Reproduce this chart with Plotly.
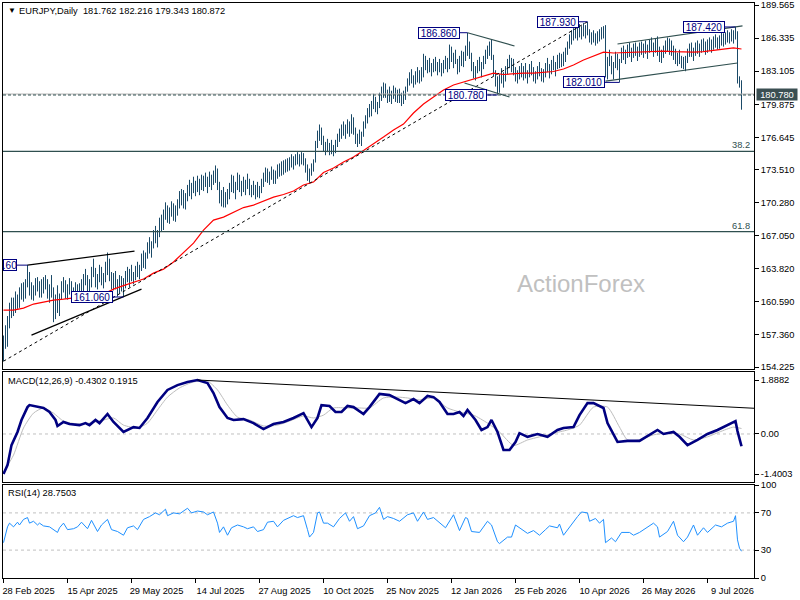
import plotly.graph_objects as go
from plotly.subplots import make_subplots

# ---------------- data ----------------
close = [
    156.9,157.8,158.8,160.2,160.0,160.6,161.0,160.3,161.6,162.0,
    161.1,162.5,163.0,161.8,161.2,161.8,162.6,162.0,161.4,162.4,
    162.6,162.2,161.3,161.8,161.5,159.6,160.9,160.2,161.1,162.3,
    162.0,161.4,162.0,162.5,161.3,161.7,161.6,161.2,162.1,161.8,
    162.9,162.6,162.0,162.4,163.6,163.4,162.4,162.9,163.8,162.6,
    162.8,164.2,163.8,163.0,162.2,163.0,162.0,161.9,162.8,162.4,
    162.5,163.3,162.9,163.5,162.9,163.2,163.9,163.4,164.0,165.0,
    164.4,165.2,166.1,165.7,166.3,167.2,166.8,167.4,168.5,167.9,
    169.2,169.5,168.9,169.5,169.8,169.0,169.6,170.3,170.9,170.6,
    170.2,170.9,171.7,171.4,172.0,171.6,172.1,171.8,172.3,171.9,
    172.4,172.0,172.5,172.2,172.8,172.4,173.5,171.9,170.6,171.0,
    170.4,170.9,171.2,171.9,172.6,171.5,172.0,172.8,171.6,172.2,
    171.8,172.2,172.0,171.4,171.7,171.2,171.5,171.1,171.6,172.3,
    172.9,173.3,172.6,173.1,173.4,172.7,173.2,173.6,173.4,174.0,
    173.8,174.2,174.0,174.5,174.2,174.6,174.4,174.9,174.6,174.8,
    174.3,173.6,172.8,173.3,173.8,174.2,176.0,176.9,176.7,176.3,
    175.6,175.9,175.5,175.8,175.3,175.7,176.2,176.7,177.1,177.4,
    177.2,177.6,177.9,177.1,178.4,177.2,176.4,176.6,176.2,176.9,
    177.9,178.5,179.2,179.0,179.8,180.5,179.6,179.9,180.8,181.2,
    181.6,180.9,181.0,180.4,181.1,181.3,180.6,181.0,180.3,180.7,
    180.9,181.4,182.1,182.8,182.3,182.5,182.9,182.4,183.0,182.8,
    184.4,183.6,183.9,183.3,183.6,184.0,183.5,183.8,183.2,183.5,
    183.9,184.3,183.4,185.3,184.4,184.6,183.9,183.2,184.2,184.0,
    184.7,185.3,185.2,184.7,183.6,182.8,183.3,183.8,183.4,183.8,
    184.3,184.9,185.3,185.0,184.5,183.0,182.0,181.6,182.4,182.2,
    182.6,183.3,184.0,183.8,184.1,183.0,182.4,182.9,183.1,182.8,
    183.3,182.7,182.9,183.5,183.0,182.4,182.8,183.3,182.9,182.6,
    183.0,183.6,183.3,183.5,184.0,183.6,183.8,184.4,184.5,184.3,
    184.7,185.2,185.8,186.4,186.8,187.0,186.8,187.2,187.0,187.3,
    187.1,187.4,186.9,186.3,186.6,186.4,186.6,186.5,186.9,187.1,
    187.3,182.9,184.1,184.0,183.2,183.7,184.6,183.5,184.0,185.0,
    184.6,185.0,185.4,184.9,185.1,185.5,185.0,185.2,185.6,185.3,
    185.6,185.2,185.5,185.9,185.4,185.7,186.0,185.0,184.4,184.9,
    185.3,185.8,185.4,185.9,185.0,184.6,184.2,184.5,184.0,183.9,
    183.8,184.3,185.0,185.4,184.8,185.1,185.6,185.2,185.6,185.9,
    185.5,185.7,185.9,185.6,186.0,186.2,185.9,186.1,186.3,186.6,
    186.2,186.7,186.5,186.8,186.6,186.9,186.9,182.3,181.762,180.872,
]
high = [
    157.3,158.3,159.2,160.5,161.0,161.0,161.6,161.3,162.0,162.4,
    162.5,162.8,164.2,163.5,162.5,162.2,162.9,163.0,162.6,162.8,
    163.0,163.2,162.8,162.3,163.2,162.0,161.3,162.2,161.4,162.6,
    163.0,162.7,162.3,162.9,162.6,162.0,162.5,162.3,162.4,162.8,
    163.3,163.8,163.2,162.8,164.0,164.8,163.9,163.3,164.2,164.0,
    163.4,164.5,165.4,164.8,163.5,163.4,163.6,162.8,163.2,163.1,
    162.9,163.6,164.0,163.8,164.2,163.5,164.1,164.5,164.2,165.3,
    165.6,165.4,166.4,166.9,166.5,167.6,168.0,167.6,168.8,169.1,
    169.6,170.3,170.0,169.8,170.4,170.2,170.0,170.6,171.4,171.6,
    171.5,171.2,172.0,172.5,172.2,172.8,172.4,172.9,172.6,173.0,
    172.9,173.2,172.8,173.3,173.0,173.4,173.9,173.6,172.3,171.5,
    171.8,171.3,171.6,172.2,173.0,172.9,172.3,173.2,173.0,172.4,
    172.8,172.5,173.1,172.6,172.0,172.4,172.0,172.3,171.9,172.6,
    173.2,173.7,173.6,173.3,173.8,173.5,173.4,174.0,174.1,174.3,
    174.4,174.5,174.6,174.7,175.0,174.8,175.0,175.2,175.0,175.2,
    175.1,174.6,174.0,173.6,174.1,174.5,176.3,177.3,177.9,177.6,
    176.8,176.2,176.5,176.1,176.4,175.9,176.4,177.0,177.5,177.9,
    178.2,177.9,178.4,178.2,178.9,178.6,177.6,177.0,177.4,177.2,
    178.2,178.8,179.5,179.9,180.2,180.9,180.6,180.1,181.0,181.6,
    182.0,181.9,181.3,181.6,181.2,181.7,181.5,181.3,181.4,181.0,
    181.2,181.6,182.4,183.0,183.3,182.7,183.1,183.5,183.2,183.5,
    184.8,184.6,184.2,184.4,183.9,184.3,184.5,184.0,184.3,183.9,
    184.2,184.6,184.4,185.7,185.5,184.9,185.2,184.3,184.6,185.1,
    185.0,185.6,186.86,186.0,184.9,184.0,183.6,184.2,184.5,184.0,
    184.6,185.2,185.6,186.0,186.2,184.7,183.2,182.6,182.8,183.4,
    183.0,183.6,184.3,184.7,184.4,184.3,183.5,183.2,183.6,183.9,
    183.6,183.9,183.2,183.8,184.1,183.5,183.1,183.6,184.0,183.4,
    183.3,183.9,184.4,183.8,184.2,184.6,184.0,184.7,184.9,184.8,
    185.0,185.4,186.0,186.7,187.1,187.3,187.6,187.4,187.7,187.5,
    187.8,187.6,187.93,187.2,186.9,187.1,186.8,187.0,187.2,187.4,
    187.5,187.6,184.5,185.2,184.6,184.0,185.0,184.8,184.3,185.4,
    185.6,185.2,185.7,185.9,185.4,185.8,185.9,185.5,185.9,186.0,
    185.8,186.1,185.7,186.2,186.4,185.9,186.3,186.5,185.5,185.2,
    185.6,186.1,186.4,186.3,186.1,185.6,185.3,184.9,185.2,184.6,
    184.5,184.6,185.3,185.8,185.9,185.4,185.9,186.1,185.8,186.2,
    186.3,186.0,186.2,186.4,186.2,186.5,186.7,186.4,186.6,186.9,
    186.8,186.9,187.1,186.9,187.2,187.1,187.42,187.0,182.6,182.216,
]
low = [
    154.79,156.0,156.2,158.0,159.0,159.2,159.5,159.9,160.0,160.8,
    160.6,160.9,162.0,161.2,160.8,160.7,161.2,161.6,161.0,161.0,
    161.4,161.8,160.9,160.5,161.0,158.6,158.9,159.5,159.2,160.8,
    161.5,160.9,160.8,161.3,160.9,160.6,161.0,160.7,160.8,161.3,
    161.5,162.2,161.6,161.0,162.0,163.0,162.0,161.8,162.5,162.2,
    161.9,162.5,163.2,162.6,161.8,161.7,161.8,161.1,161.4,161.6,
    161.06,161.9,162.5,162.0,162.6,162.3,162.7,163.0,162.8,163.6,
    163.9,163.8,164.8,165.3,164.9,165.8,166.3,165.9,166.9,167.5,
    167.6,168.6,168.3,168.2,168.9,168.5,168.4,169.0,169.7,170.0,
    169.7,169.6,170.4,170.9,170.6,171.2,170.9,171.3,171.0,171.5,
    171.4,171.8,171.2,171.8,171.5,172.0,172.2,171.5,170.2,169.9,
    169.8,169.8,170.1,170.6,171.3,171.2,170.6,171.5,171.3,170.9,
    171.3,171.0,171.6,171.0,170.8,171.0,170.6,170.8,170.7,171.2,
    171.8,172.3,172.2,172.0,172.5,172.1,172.1,172.6,172.8,172.9,
    173.0,173.2,173.3,173.4,173.7,173.5,173.9,174.0,173.8,174.0,
    173.9,173.2,172.4,172.2,172.9,173.3,174.2,175.6,176.3,175.9,
    175.3,174.9,175.2,174.9,175.0,174.8,175.1,175.7,176.2,176.5,
    176.8,176.5,177.0,176.7,177.0,176.9,176.0,175.7,176.0,175.8,
    176.7,177.5,178.0,178.6,178.7,179.4,179.1,178.9,179.5,180.2,
    180.5,180.5,180.0,180.1,179.9,180.4,180.1,180.0,180.0,179.7,
    179.9,180.3,181.1,181.7,181.9,181.5,181.8,182.0,181.9,182.1,
    182.5,183.2,182.9,183.0,182.6,183.0,183.1,182.7,183.0,182.6,
    182.9,183.3,183.0,183.3,184.0,183.4,183.8,182.8,183.0,183.6,
    183.5,184.1,184.6,184.3,183.1,182.4,182.2,182.9,183.1,182.5,
    183.3,183.8,184.3,184.6,184.2,182.6,181.6,180.78,181.0,181.9,
    181.5,182.1,182.8,183.4,183.0,182.7,182.1,181.9,182.3,182.5,
    182.2,182.4,181.9,182.5,182.7,182.1,181.9,182.3,182.6,182.1,
    182.0,182.5,183.0,182.4,182.8,183.2,182.6,183.3,183.4,183.5,
    183.6,184.0,184.7,185.3,185.7,186.1,186.3,186.1,186.4,186.2,
    186.5,186.3,186.6,185.9,185.7,185.9,185.6,185.8,186.0,186.2,
    186.3,182.5,182.3,183.6,182.8,182.3,183.4,183.2,182.01,183.9,
    184.2,183.8,184.4,184.5,184.0,184.4,184.6,184.1,184.5,184.7,
    184.4,184.8,184.3,184.9,185.0,184.5,184.9,184.6,184.0,183.9,
    184.4,184.8,185.0,184.7,184.6,184.2,183.8,183.6,183.8,183.4,
    183.3,183.1,183.9,184.5,184.5,184.1,184.6,184.8,184.5,184.9,
    185.0,184.7,184.9,185.1,184.9,185.2,185.4,185.2,185.3,185.6,
    185.5,185.7,185.9,185.8,186.0,185.8,186.2,181.9,181.5,179.343,
]
first_open = 155.00
# daily FX bars open at the prior bar's close
open_ = [first_open] + close[:-1]
bar_index = list(range(len(close)))

ema_idx = [0,5,10,15,20,25,30,35,40,45,50,55,60,65,70,75,80,85,90,95,
           100,105,110,115,120,125,130,135,140,145,150,155,160,165,170,175,180,185,190,195,
           200,205,210,215,220,225,230,235,240,245,250,255,260,265,270,275,280,285,290,295,
           300,305,310,315,320,325,330,335,340,345,350,355,360,365,369]
ema_val = [159.78,159.78,159.97,160.37,160.56,160.76,160.85,160.95,161.05,161.20,
           161.34,161.83,162.17,162.51,162.81,163.39,163.78,164.47,165.35,166.32,
           167.59,168.57,168.86,169.35,169.79,170.03,170.42,170.81,171.06,171.40,
           171.99,172.28,173.21,173.65,174.23,174.72,175.36,175.99,176.67,177.36,
           177.94,179.02,179.90,180.58,181.26,181.75,182.05,182.34,182.63,182.92,
           182.78,182.87,182.92,182.92,182.97,183.07,183.32,183.71,184.19,184.58,
           184.97,184.88,184.93,184.97,184.97,185.02,185.07,185.02,184.97,184.97,
           185.02,185.12,185.22,185.37,185.27]

macd_idx = [0,2,4,7,9,12,13,17,20,23,26,27,30,33,38,41,43,46,48,52,55,60,65,68,72,77,82,87,92,97,
            102,105,108,112,115,120,125,130,135,140,145,150,152,154,157,159,163,166,169,172,175,180,183,188,193,198,
            201,205,208,212,215,218,222,225,228,230,232,236,239,242,244,247,250,253,256,258,262,267,272,277,280,285,
            288,292,295,300,302,307,312,318,323,327,330,335,338,342,347,352,357,362,366,367,368,369]
macd_val = [-1.40,-1.09,-0.39,0.07,0.49,0.94,1.01,0.94,0.91,0.77,0.49,0.28,0.42,0.35,0.31,0.38,0.31,0.49,0.38,0.70,
            0.42,0.07,0.24,0.21,0.56,1.12,1.54,1.71,1.82,1.8882,
            1.78,1.43,0.94,0.56,0.49,0.52,0.38,0.17,0.35,0.42,0.56,0.73,0.49,0.24,0.56,1.01,0.98,0.77,0.77,0.98,0.94,
            0.70,0.94,1.40,1.36,1.19,
            1.08,1.22,1.08,1.33,1.29,1.12,0.70,0.70,0.77,0.63,0.84,0.49,0.14,0.24,0.49,0.07,-0.56,-0.56,-0.28,0.03,
            -0.10,0.00,-0.10,0.14,0.21,0.24,
            0.66,1.08,1.08,0.91,0.38,-0.28,-0.24,-0.24,-0.03,0.14,0.00,0.07,-0.10,-0.39,-0.21,0.00,0.14,0.31,0.45,
            0.10,-0.15,-0.4302]

signal_idx = [0,5,10,15,20,25,30,37,43,50,55,60,67,72,77,82,88,95,102,107,112,117,123,130,137,143,150,155,
              160,165,172,178,183,190,197,202,208,215,222,228,235,242,248,255,262,268,275,282,288,295,302,
              308,312,318,325,332,338,345,352,358,365,369]
signal_val = [-1.33,-0.74,0.21,0.73,0.91,0.73,0.45,0.35,0.38,0.49,0.56,0.31,0.21,0.38,0.84,1.29,1.61,1.82,1.85,
              1.54,1.01,0.59,0.49,0.28,0.31,0.45,0.63,0.56,
              0.66,0.91,0.91,0.91,0.91,1.26,1.29,1.26,1.19,1.26,0.91,0.77,0.66,0.38,0.07,-0.40,-0.21,-0.10,0.03,
              0.14,0.31,0.94,0.94,
              0.24,-0.21,-0.21,-0.03,0.03,0.00,-0.21,-0.10,0.07,0.24,0.1915]

rsi_idx = [0,2,3,5,7,8,10,12,13,15,17,18,20,23,27,28,30,32,35,37,39,42,44,47,49,52,54,57,60,62,65,67,
           70,73,76,78,81,82,85,88,92,94,97,100,102,105,107,108,110,112,114,117,120,122,125,127,
           130,132,135,137,140,142,145,147,150,152,153,155,157,158,160,162,165,168,171,173,175,177,
           180,183,186,188,190,192,195,198,202,205,207,210,212,215,218,221,225,228,231,232,234,238,
           242,244,247,248,252,254,256,258,262,265,268,271,273,277,278,280,283,287,289,292,293,296,298,
           300,301,304,306,309,313,315,318,322,325,327,328,332,335,337,340,342,345,347,350,352,356,359,
           362,365,366,367,368,369]
rsi_val = [38,55,59,55,60,57,63,65,59,61,57,59,56,55,49,54,59,52,53,55,60,53,62,50,57,63,52,50,46,54,56,52,
           63,66,70,68,74,67,70,69,75,70,72,71,68,71,59,49,55,46,54,57,55,53,55,50,
           52,60,61,55,62,64,67,65,67,52,44,49,70,71,59,59,55,64,70,61,66,53,
           56,67,70,76,63,66,64,61,68,70,61,71,63,65,59,54,68,51,65,64,50,49,
           61,57,39,37,44,44,57,54,48,51,46,52,56,54,58,46,55,66,71,70,61,64,59,
           63,38,43,39,49,49,46,49,55,59,55,44,50,61,46,39,44,57,46,54,49,57,55,
           59,61,67,41,32,28.7503]

main_ticks = [189.565, 186.335, 183.105, 179.875, 176.645, 173.510, 170.280,
              167.050, 163.820, 160.590, 157.360, 154.225]
macd_ticks = [1.8882, 0.0, -1.4003]
macd_tick_text = ["1.8882", "0.00", "-1.4003"]
rsi_ticks = [100, 70, 30, 0]
date_pos = [0, 32, 64, 96, 128, 160, 192, 224, 256, 288, 320, 352]
date_text = ["28 Feb 2025", "15 Apr 2025", "29 May 2025", "14 Jul 2025", "27 Aug 2025",
             "10 Oct 2025", "25 Nov 2025", "12 Jan 2026", "25 Feb 2026", "10 Apr 2026",
             "26 May 2026", "9 Jul 2026"]

# Fibonacci tool anchors and levels
fib_low_idx, fib_low = 0, 154.79
fib_high_idx, fib_high = 292, 187.93
fib_ratios = [0.382, 0.618]
fib_names = ["38.2", "61.8"]

hline_level = 180.78
bid_level = 180.872

# price labels: (text, value, box right edge bar, bar pointed to)
price_labels = [
    ("186.860", 186.86, 228, 232),
    ("187.930", 187.93, 287.5, 292),
    ("187.420", 187.42, 360.5, 366),
    ("182.010", 182.01, 300.5, 308),
    ("180.780", 180.78, 241.5, 247),
    ("161.060", 161.06, 54.5, 60),
    (".60", 164.17, 6.5, 12),
]
# trend lines in bar index / price: (i0, v0, i1, v1, colour)
trend_lines = [
    (12, 164.17, 65.5, 165.54, "black"),
    (14, 157.34, 69, 161.83, "black"),
    (232, 186.86, 255.5, 185.56, "#2f4f4f"),
    (230.5, 181.95, 253, 180.58, "#2f4f4f"),
    (307, 185.76, 369.5, 187.52, "#2f4f4f"),
    (301, 182.14, 367, 183.90, "#2f4f4f"),
]
macd_trend = (97, 1.8882, 375.25, 0.90)

# ---------------- figure ----------------
FONT = "Liberation Sans"
FS = 9.3
BAR = "#1b4a68"
SLATE = "#2f4f4f"

W, H = 800, 600
ML, MR, MT, MB = 3, 46, 3, 22
PW, PH = W - ML - MR, H - MT - MB
XR = [-0.25, 375.25]   # 2 px per bar, bars on pixel centres
def fx(xpx):
    return (xpx - ML) / PW
def fy(ypx):
    return (H - MB - ypx) / PH

fig = make_subplots(rows=3, cols=1, shared_xaxes=True, vertical_spacing=0.0)

fig.add_trace(go.Ohlc(x=bar_index, open=open_, high=high, low=low, close=close,
                      increasing=dict(line=dict(color=BAR, width=1)),
                      decreasing=dict(line=dict(color=BAR, width=1)),
                      tickwidth=0.15, hoverinfo="skip", showlegend=False), row=1, col=1)
fig.add_trace(go.Scatter(x=ema_idx, y=ema_val, mode="lines",
                         line=dict(color="#ff0000", width=1.2), hoverinfo="skip",
                         showlegend=False), row=1, col=1)
fig.add_trace(go.Scatter(x=signal_idx, y=signal_val, mode="lines",
                         line=dict(color="#bdbdbd", width=1, shape="spline", smoothing=0.6),
                         hoverinfo="skip", showlegend=False), row=2, col=1)
fig.add_trace(go.Scatter(x=macd_idx, y=macd_val, mode="lines",
                         line=dict(color="#000080", width=2.6), hoverinfo="skip",
                         showlegend=False), row=2, col=1)
fig.add_trace(go.Scatter(x=rsi_idx, y=rsi_val, mode="lines",
                         line=dict(color="#1e90ff", width=1), hoverinfo="skip",
                         showlegend=False), row=3, col=1)

shapes = []
shapes.append(dict(type="line", xref="x", yref="y", x0=fib_low_idx, y0=fib_low,
                   x1=fib_high_idx, y1=fib_high, line=dict(color="black", width=1, dash="3px,3px")))
fib_levels = [fib_high - r * (fib_high - fib_low) for r in fib_ratios]
for lv in fib_levels:
    shapes.append(dict(type="line", xref="x domain", yref="y", x0=0, x1=1, y0=lv, y1=lv,
                       line=dict(color=SLATE, width=1.2)))
shapes.append(dict(type="line", xref="x domain", yref="y", x0=0, x1=1, y0=bid_level, y1=bid_level,
                   line=dict(color="#b4b4b4", width=1)))
shapes.append(dict(type="line", xref="x domain", yref="y", x0=0, x1=1, y0=hline_level, y1=hline_level,
                   line=dict(color=SLATE, width=1, dash="3px,2px")))
for i0, v0, i1, v1, col in trend_lines:
    shapes.append(dict(type="line", xref="x", yref="y", x0=i0, y0=v0, x1=i1, y1=v1,
                       line=dict(color=col, width=1.2)))
for txt, v, ibox, ibar in price_labels:
    shapes.append(dict(type="line", xref="x", yref="y", x0=ibox, y0=v, x1=ibar, y1=v,
                       line=dict(color="#000080", width=1)))
shapes.append(dict(type="line", xref="x2 domain", yref="y2", x0=0, x1=1, y0=0, y1=0,
                   line=dict(color="#c0c0c0", width=1, dash="3px,3px"), layer="below"))
shapes.append(dict(type="line", xref="x2", yref="y2", x0=macd_trend[0], y0=macd_trend[1],
                   x1=macd_trend[2], y1=macd_trend[3], line=dict(color="black", width=1)))
for lv in (70, 30):
    shapes.append(dict(type="line", xref="x3 domain", yref="y3", x0=0, x1=1, y0=lv, y1=lv,
                       line=dict(color="#c0c0c0", width=1, dash="3px,3px"), layer="below"))

ann = []
def note(text, xpx, ypx, xanchor="left", size=FS, color="black"):
    return dict(text=text, xref="paper", yref="paper", x=fx(xpx), y=fy(ypx), xanchor=xanchor,
                yanchor="middle", showarrow=False, font=dict(family=FONT, size=size, color=color))

ann.append(note("▼", 6, 11, size=8))
ann.append(note("EURJPY,Daily  181.762 182.216 179.343 180.872", 17, 11))
ann.append(note("MACD(12,26,9) -0.4302 0.1915", 6, 381))
ann.append(note("RSI(14) 28.7503", 6, 493))
ann.append(dict(text="ActionForex", xref="paper", yref="paper", x=fx(581), y=fy(283),
                xanchor="center", yanchor="middle", showarrow=False,
                font=dict(family=FONT, size=24, color="#c0c0c0")))
for name, lv in zip(fib_names, fib_levels):
    ann.append(dict(text=name, xref="paper", yref="y", x=fx(752), y=lv, xanchor="right",
                    yanchor="bottom", showarrow=False, yshift=-1,
                    font=dict(family=FONT, size=FS, color=SLATE)))
for txt, v, ibox, ibar in price_labels:
    ann.append(dict(text=txt, xref="x", yref="y", x=ibox, y=v, xanchor="right", yanchor="middle",
                    showarrow=False, bordercolor="#000080", borderwidth=1, borderpad=0,
                    bgcolor="white", width=(12 if len(txt) < 5 else 40), height=10,
                    font=dict(family=FONT, size=10, color="#000080")))
ann.append(dict(text="180.780", xref="paper", yref="y", x=fx(756), y=hline_level, xanchor="left",
                yanchor="middle", showarrow=False, bgcolor="#3b4f52", borderpad=0, width=40, height=11,
                font=dict(family=FONT, size=FS, color="white")))

axis_font = dict(family=FONT, size=FS, color="black")
common_y = dict(side="right", showline=True, linecolor="black", linewidth=1, mirror=True,
                ticks="outside", ticklen=4, tickcolor="black", showgrid=False, zeroline=False,
                tickfont=axis_font, automargin=False, fixedrange=True)
fig.update_layout(
    width=W, height=H, template="none",
    margin=dict(l=ML, r=MR, t=MT, b=MB, autoexpand=False),
    paper_bgcolor="white", plot_bgcolor="white", showlegend=False,
    shapes=shapes, annotations=ann,
    yaxis=dict(domain=[fy(369), 1.0], range=[154.03, 189.76], tickvals=main_ticks,
               ticktext=[f"{t:.3f}" for t in main_ticks], **common_y),
    yaxis2=dict(domain=[fy(482), fy(372)], range=[-1.68, 2.168], tickvals=macd_ticks,
                ticktext=macd_tick_text, **common_y),
    yaxis3=dict(domain=[0.0, fy(485)], range=[0, 100], tickvals=rsi_ticks,
                ticktext=[str(t) for t in rsi_ticks], **common_y),
)
fig.update_xaxes(range=XR, showline=True, linecolor="black", linewidth=1, mirror=True,
                 showgrid=False, zeroline=False, rangeslider_visible=False, automargin=False,
                 fixedrange=True)
fig.update_xaxes(row=3, col=1, tickvals=date_pos, ticktext=date_text, ticks="outside", ticklen=4,
                 tickcolor="black", tickfont=axis_font, showticklabels=True, ticklabelshift=25)
fig.update_xaxes(row=1, col=1, showticklabels=False)
fig.update_xaxes(row=2, col=1, showticklabels=False)

fig.write_html("out.html", config={"displayModeBar": False, "staticPlot": True},
               post_script="document.body.style.margin='0px';document.body.style.overflow='hidden';")
